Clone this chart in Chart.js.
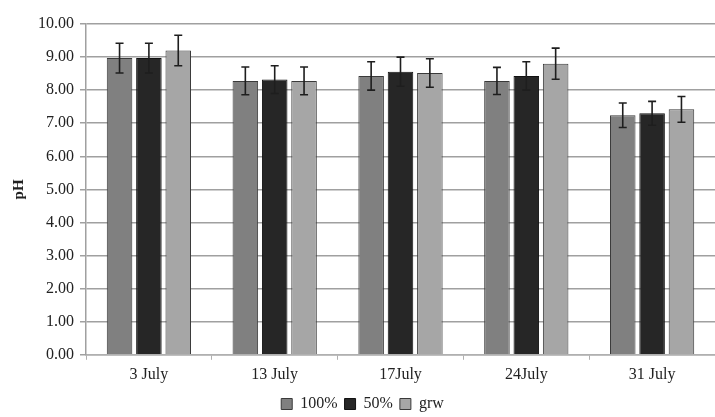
<!DOCTYPE html>
<html>
<head>
<meta charset="utf-8">
<script src="https://cdn.jsdelivr.net/npm/chart.js@4"></script>
<style>
  html, body { margin: 0; padding: 0; background: #fff; }
  #wrap { width: 715px; height: 417px; }
</style>
</head>
<body>
<div id="wrap"><canvas id="phChart" width="715" height="417"></canvas></div>
<script>
// dates of sampling
const dates = ['3 July', '13 July', '17July', '24July', '31 July'];
const seriesNames = ['100%', '50%', 'grw'];

// mean pH per treatment
const ph100 = [8.97, 8.28, 8.43, 8.28, 7.24];
const ph50 = [8.97, 8.32, 8.56, 8.43, 7.30];
const phGrw = [9.20, 8.28, 8.52, 8.80, 7.42];

// error (+/-) per treatment
const err100 = [0.45, 0.42, 0.43, 0.41, 0.37];
const err50 = [0.45, 0.42, 0.44, 0.43, 0.36];
const errGrw = [0.46, 0.42, 0.43, 0.47, 0.39];

const yTicks = [0, 1, 2, 3, 4, 5, 6, 7, 8, 9, 10];

const serif = "'Liberation Serif', 'DejaVu Serif', serif";

// draws the error bars on top of every bar
const errorBars = {
    id: 'errorBars',
    afterDatasetsDraw(chart) {
        const ctx = chart.ctx;
        const yScale = chart.scales.y;
        chart.data.datasets.forEach(function(ds, i) {
            const meta = chart.getDatasetMeta(i);
            meta.data.forEach(function(bar, j) {
                const v = ds.data[j];
                const e = ds.errors[j];
                const top = yScale.getPixelForValue(v + e);
                const bottom = yScale.getPixelForValue(v - e);
                const x = bar.x;
                ctx.save();
                ctx.strokeStyle = '#1e1e1e';
                ctx.lineWidth = 1.6;
                ctx.beginPath();
                ctx.moveTo(x, top);
                ctx.lineTo(x, bottom);
                ctx.moveTo(x - 4, top);
                ctx.lineTo(x + 4, top);
                ctx.moveTo(x - 4, bottom);
                ctx.lineTo(x + 4, bottom);
                ctx.stroke();
                ctx.restore();
            });
        });
    }
};

const ctx = document.getElementById('phChart').getContext('2d');

const myChart = new Chart(ctx, {
    type: 'bar',
    data: {
        labels: dates,
        datasets: [{
            label: seriesNames[0],
            data: ph100,
            errors: err100,
            backgroundColor: '#808080',
            borderColor: '#3a3a3a',
            borderWidth: 1
        }, {
            label: seriesNames[1],
            data: ph50,
            errors: err50,
            backgroundColor: '#262626',
            borderColor: '#111111',
            borderWidth: 1
        }, {
            label: seriesNames[2],
            data: phGrw,
            errors: errGrw,
            backgroundColor: '#a6a6a6',
            borderColor: '#3a3a3a',
            borderWidth: 1
        }]
    },
    options: {
        responsive: false,
        animation: false,
        layout: { padding: { top: 24, right: 0, left: 10, bottom: -5 } },
        categoryPercentage: 0.7,
        barPercentage: 0.87,
        plugins: {
            tooltip: { enabled: false },
            legend: {
                position: 'bottom',
                labels: {
                    color: '#222',
                    font: { family: serif, size: 16 },
                    boxWidth: 11,
                    boxHeight: 11,
                    padding: 7
                }
            }
        },
        scales: {
            x: {
                grid: {
                    drawOnChartArea: false,
                    color: '#b0b0b0',
                    tickLength: 5
                },
                border: { color: '#b0b0b0', width: 1.5 },
                ticks: {
                    color: '#222',
                    font: { family: serif, size: 16 },
                    padding: 5
                }
            },
            y: {
                min: 0,
                max: 10,
                afterBuildTicks: function(axis) {
                    axis.ticks = yTicks.map(v => ({ value: v }));
                },
                grid: {
                    color: '#a0a0a0',
                    lineWidth: 1.5,
                    tickLength: 6
                },
                border: { color: '#a0a0a0', width: 1.5 },
                ticks: {
                    color: '#222',
                    font: { family: serif, size: 16 },
                    padding: 6,
                    callback: function(value) { return Number(value).toFixed(2); }
                },
                title: {
                    display: true,
                    text: 'pH',
                    color: '#222',
                    font: { family: serif, size: 15, weight: 'bold' },
                    padding: { top: 0, bottom: 4 }
                }
            }
        }
    },
    plugins: [errorBars]
});
</script>
</body>
</html>
